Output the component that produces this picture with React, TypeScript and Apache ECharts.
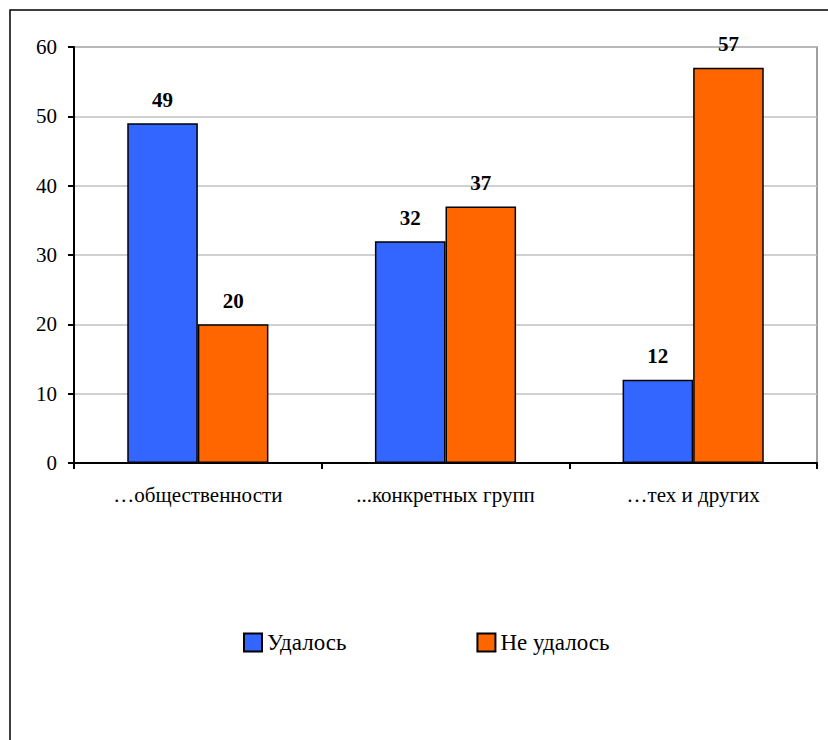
import React, { useEffect, useRef } from "react";
import * as echarts from "echarts";

const categories = ["…общественности", "...конкретных групп", "…тех и других"];
const succeeded = [49, 32, 12];
const failed = [20, 37, 57];
const seriesNames = ["Удалось", "Не удалось"];

const FONT = "Times New Roman, Liberation Serif, serif";

export default function App() {
  const ref = useRef<HTMLDivElement>(null);
  useEffect(() => {
    if (!ref.current) return;
    const chart = echarts.init(ref.current, undefined, { renderer: "svg" });
    const label = {
      show: true,
      position: "top",
      distance: 13,
      fontFamily: FONT,
      fontSize: 21,
      fontWeight: "bold",
      color: "#000",
    };
    chart.setOption({
      animation: false,
      backgroundColor: "#fff",
      textStyle: { fontFamily: FONT },
      grid: {
        left: 74,
        top: 47,
        right: 11,
        bottom: 277,
        show: true,
        borderColor: "#808080",
        borderWidth: 1.5,
      },
      legend: {
        left: 238,
        top: 626,
        itemWidth: 18,
        itemHeight: 18,
        itemGap: 130,
        icon: "rect",
        textStyle: { fontFamily: FONT, fontSize: 23, color: "#000" },
        data: seriesNames,
      },
      xAxis: {
        type: "category",
        data: categories,
        axisLine: { lineStyle: { color: "#000", width: 2 } },
        axisTick: { show: true, length: 6, lineStyle: { color: "#000", width: 2 } },
        axisLabel: { fontFamily: FONT, fontSize: 21, color: "#000", margin: 21 },
      },
      yAxis: {
        type: "value",
        min: 0,
        max: 60,
        interval: 10,
        axisLine: { show: true, lineStyle: { color: "#000", width: 2 } },
        axisTick: { show: true, length: 6, lineStyle: { color: "#000", width: 2 } },
        axisLabel: { fontFamily: FONT, fontSize: 21, color: "#000", margin: 17 },
        splitLine: { lineStyle: { color: "#c0c0c0", width: 1.5 } },
      },
      series: [
        {
          name: seriesNames[0],
          type: "bar",
          data: succeeded,
          barGap: "0%",
          barCategoryGap: "43%",
          itemStyle: { color: "#3366ff", borderColor: "#000", borderWidth: 1.5 },
          label,
        },
        {
          name: seriesNames[1],
          type: "bar",
          data: failed,
          itemStyle: { color: "#ff6600", borderColor: "#000", borderWidth: 1.5 },
          label,
        },
      ],
      graphic: [
        {
          type: "rect",
          shape: { x: 10, y: 10, width: 840, height: 760 },
          style: { fill: "none", stroke: "#000", lineWidth: 1.5 },
          silent: true,
        },
      ],
    });
    return () => chart.dispose();
  }, []);
  return (
    <div
      ref={ref}
      style={{ position: "fixed", left: 0, top: 0, width: 828, height: 740 }}
    />
  );
}
